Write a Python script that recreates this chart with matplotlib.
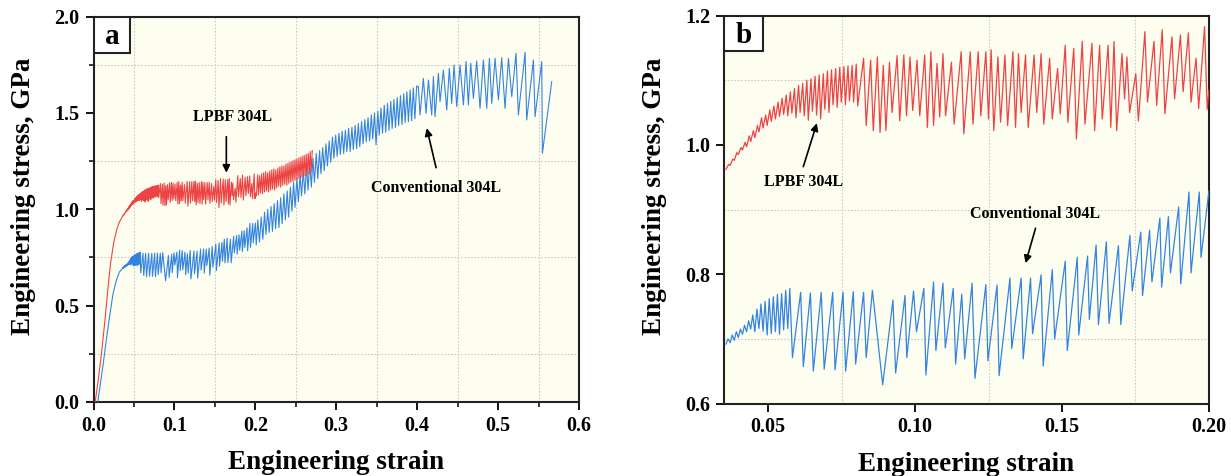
import matplotlib
matplotlib.use("Agg")
import matplotlib.pyplot as plt
from matplotlib.ticker import MultipleLocator, FixedLocator, FormatStrFormatter
from matplotlib.patches import Rectangle

# ---------------- data ----------------
# LPBF 304L : elastic part (0 - 0.035)
red_init_strain = [0.002, 0.006, 0.010, 0.014, 0.018, 0.021, 0.025, 0.029, 0.032]
red_init_stress = [0.000, 0.120, 0.260, 0.420, 0.600, 0.720, 0.830, 0.900, 0.935]

# LPBF 304L : serrated part shown in panel b (0.035 - 0.20)
red_b_strain = [
    0.0357, 0.0366, 0.0371, 0.0380, 0.0385, 0.0394, 0.0399, 0.0408, 0.0413, 0.0422,
    0.0427, 0.0436, 0.0441, 0.0450, 0.0455, 0.0464, 0.0469, 0.0478, 0.0483, 0.0492,
    0.0497, 0.0506, 0.0511, 0.0520, 0.0525, 0.0534, 0.0539, 0.0548, 0.0553, 0.0562,
    0.0567, 0.0576, 0.0581, 0.0590, 0.0595, 0.0604, 0.0609, 0.0618, 0.0623, 0.0632,
    0.0637, 0.0646, 0.0651, 0.0660, 0.0665, 0.0674, 0.0679, 0.0688, 0.0693, 0.0702,
    0.0707, 0.0716, 0.0721, 0.0730, 0.0735, 0.0744, 0.0749, 0.0758, 0.0763, 0.0772,
    0.0777, 0.0786, 0.0791, 0.0800, 0.0805,
    0.0825, 0.0834, 0.0849, 0.0858, 0.0872, 0.0881, 0.0892, 0.0901, 0.0913, 0.0922,
    0.0939, 0.0948, 0.0962, 0.0971, 0.0983, 0.0992, 0.1007, 0.1016, 0.1033, 0.1042,
    0.1054, 0.1063, 0.1075, 0.1084, 0.1095, 0.1104, 0.1124, 0.1133, 0.1157, 0.1166,
    0.1188, 0.1197, 0.1215, 0.1224, 0.1241, 0.1250, 0.1259, 0.1268, 0.1282, 0.1291,
    0.1306, 0.1315, 0.1333, 0.1342, 0.1352, 0.1361, 0.1376, 0.1385, 0.1405, 0.1414,
    0.1429, 0.1438, 0.1458, 0.1467, 0.1485, 0.1494, 0.1511, 0.1520, 0.1540, 0.1549,
    0.1569, 0.1578, 0.1602, 0.1611, 0.1628, 0.1637, 0.1657, 0.1666, 0.1677, 0.1686,
    0.1704, 0.1713, 0.1721, 0.1730, 0.1751, 0.1760, 0.1782, 0.1791, 0.1813, 0.1822,
    0.1841, 0.1850, 0.1874, 0.1883, 0.1903, 0.1912, 0.1930, 0.1939, 0.1956, 0.1965,
    0.1985, 0.1994, 0.2000]
red_b_stress = [
    0.962, 0.970, 0.968, 0.978, 0.976, 0.988, 0.985, 0.996, 0.992, 1.004,
    0.997, 1.014, 1.005, 1.022, 1.011, 1.030, 1.020, 1.042, 1.026, 1.046,
    1.030, 1.054, 1.036, 1.060, 1.040, 1.066, 1.044, 1.072, 1.047, 1.077,
    1.045, 1.082, 1.049, 1.087, 1.042, 1.092, 1.050, 1.095, 1.045, 1.100,
    1.038, 1.102, 1.052, 1.106, 1.046, 1.108, 1.040, 1.110, 1.055, 1.114,
    1.050, 1.116, 1.062, 1.118, 1.058, 1.120, 1.066, 1.121, 1.062, 1.122,
    1.068, 1.123, 1.066, 1.125, 1.060,
    1.134, 1.030, 1.131, 1.022, 1.136, 1.019, 1.123, 1.022, 1.128, 1.050,
    1.138, 1.037, 1.139, 1.045, 1.136, 1.053, 1.131, 1.045, 1.139, 1.027,
    1.144, 1.030, 1.126, 1.043, 1.141, 1.045, 1.128, 1.032, 1.144, 1.017,
    1.144, 1.032, 1.144, 1.045, 1.144, 1.040, 1.147, 1.022, 1.136, 1.035,
    1.139, 1.030, 1.144, 1.027, 1.141, 1.050, 1.139, 1.027, 1.139, 1.050,
    1.141, 1.032, 1.134, 1.040, 1.118, 1.048, 1.154, 1.035, 1.149, 1.009,
    1.160, 1.032, 1.157, 1.022, 1.154, 1.040, 1.154, 1.027, 1.160, 1.022,
    1.141, 1.071, 1.136, 1.050, 1.110, 1.037, 1.175, 1.066, 1.160, 1.061,
    1.178, 1.048, 1.167, 1.071, 1.170, 1.082, 1.173, 1.066, 1.134, 1.056,
    1.183, 1.055, 1.085]

# LPBF 304L : beyond 0.20 (panel a only)
red_ext_strain = [
    0.2013, 0.2028, 0.2038, 0.2053, 0.2063, 0.2078, 0.2088, 0.2103, 0.2113, 0.2128,
    0.2138, 0.2153, 0.2163, 0.2178, 0.2188, 0.2203, 0.2213, 0.2228, 0.2238, 0.2253,
    0.2263, 0.2278, 0.2288, 0.2303, 0.2313, 0.2328, 0.2338, 0.2353, 0.2363, 0.2378,
    0.2388, 0.2403, 0.2413, 0.2428, 0.2438, 0.2453, 0.2463, 0.2478, 0.2488, 0.2503,
    0.2513, 0.2528, 0.2538, 0.2553, 0.2563, 0.2578, 0.2588, 0.2603, 0.2613, 0.2628,
    0.2638, 0.2653, 0.2663, 0.2678, 0.2688, 0.2703]
red_ext_stress = [
    1.070, 1.180, 1.075, 1.175, 1.085, 1.185, 1.080, 1.190, 1.090, 1.195,
    1.095, 1.190, 1.090, 1.200, 1.100, 1.205, 1.105, 1.210, 1.100, 1.205,
    1.110, 1.215, 1.120, 1.220, 1.115, 1.225, 1.125, 1.225, 1.130, 1.235,
    1.125, 1.240, 1.135, 1.245, 1.140, 1.250, 1.145, 1.255, 1.150, 1.260,
    1.155, 1.265, 1.160, 1.270, 1.165, 1.275, 1.170, 1.280, 1.175, 1.285,
    1.180, 1.290, 1.185, 1.300, 1.190, 1.305]

# Conventional 304L : elastic part
blue_init_strain = [0.004, 0.008, 0.012, 0.016, 0.020, 0.024, 0.028, 0.032]
blue_init_stress = [-0.030, 0.080, 0.200, 0.330, 0.450, 0.560, 0.630, 0.675]

# Conventional 304L : serrated part shown in panel b (0.035 - 0.20)
blue_b_strain = [
    0.0357, 0.0364, 0.0371, 0.0378, 0.0385, 0.0392, 0.0399, 0.0406, 0.0413, 0.0420,
    0.0427, 0.0434, 0.0441, 0.0448, 0.0455, 0.0462, 0.0469, 0.0476, 0.0483, 0.0490,
    0.0497, 0.0504, 0.0511, 0.0518, 0.0525, 0.0532, 0.0539, 0.0546, 0.0553, 0.0560,
    0.0567, 0.0574,
    0.0583, 0.0611, 0.0620, 0.0644, 0.0654, 0.0681, 0.0691, 0.0720, 0.0728, 0.0755,
    0.0764, 0.0790, 0.0798, 0.0825, 0.0834, 0.0855, 0.0890, 0.0925, 0.0934, 0.0966,
    0.0972, 0.0995, 0.1005, 0.1030, 0.1037, 0.1063, 0.1071, 0.1095, 0.1103, 0.1130,
    0.1138, 0.1159, 0.1169, 0.1194, 0.1204, 0.1241, 0.1248, 0.1279, 0.1286, 0.1323,
    0.1329, 0.1361, 0.1368, 0.1393, 0.1400, 0.1429, 0.1436, 0.1467, 0.1475, 0.1511,
    0.1518, 0.1552, 0.1557, 0.1587, 0.1593, 0.1616, 0.1624, 0.1651, 0.1660, 0.1692,
    0.1700, 0.1731, 0.1739, 0.1768, 0.1774, 0.1798, 0.1806, 0.1833, 0.1839, 0.1862,
    0.1869, 0.1897, 0.1904, 0.1932, 0.1939, 0.1967, 0.1973, 0.2000]
blue_b_stress = [
    0.692, 0.700, 0.694, 0.706, 0.698, 0.711, 0.702, 0.715, 0.707, 0.721,
    0.711, 0.728, 0.715, 0.737, 0.711, 0.746, 0.716, 0.754, 0.712, 0.758,
    0.706, 0.762, 0.708, 0.765, 0.711, 0.769, 0.707, 0.770, 0.714, 0.775,
    0.716, 0.778,
    0.671, 0.772, 0.657, 0.771, 0.650, 0.772, 0.653, 0.772, 0.652, 0.772,
    0.650, 0.773, 0.661, 0.772, 0.671, 0.775, 0.629, 0.760, 0.647, 0.767,
    0.671, 0.774, 0.711, 0.778, 0.644, 0.788, 0.682, 0.786, 0.686, 0.778,
    0.661, 0.769, 0.669, 0.786, 0.639, 0.784, 0.666, 0.783, 0.643, 0.794,
    0.685, 0.794, 0.669, 0.794, 0.708, 0.799, 0.658, 0.807, 0.700, 0.820,
    0.682, 0.826, 0.706, 0.828, 0.730, 0.845, 0.722, 0.850, 0.724, 0.844,
    0.722, 0.860, 0.774, 0.865, 0.767, 0.868, 0.788, 0.887, 0.780, 0.889,
    0.802, 0.904, 0.785, 0.927, 0.802, 0.927, 0.826, 0.929]

# Conventional 304L : beyond 0.20 (panel a only)
blue_ext_strain = [
    0.2010, 0.2030, 0.2050, 0.2072, 0.2092, 0.2113, 0.2131, 0.2152, 0.2170, 0.2193,
    0.2211, 0.2232, 0.2250, 0.2273, 0.2291, 0.2312, 0.2330, 0.2352, 0.2371, 0.2393,
    0.2410, 0.2433, 0.2452, 0.2472, 0.2490, 0.2513, 0.2531, 0.2553, 0.2570, 0.2592,
    0.2611, 0.2633, 0.2650, 0.2672, 0.2691, 0.2712, 0.2730, 0.2752, 0.2771, 0.2793,
    0.2810, 0.2832, 0.2851, 0.2872, 0.2890, 0.2912, 0.2931, 0.2953, 0.2970, 0.2992,
    0.3011, 0.3033, 0.3050, 0.3072, 0.3091, 0.3112, 0.3130, 0.3152, 0.3171, 0.3193,
    0.3210, 0.3233, 0.3251, 0.3272, 0.3290, 0.3312, 0.3331, 0.3353, 0.3370, 0.3392,
    0.3411, 0.3433, 0.3450, 0.3472, 0.3491, 0.3513, 0.3530, 0.3552, 0.3571, 0.3593,
    0.3610, 0.3633, 0.3651, 0.3673, 0.3690, 0.3712, 0.3731, 0.3753, 0.3770, 0.3793,
    0.3811, 0.3833, 0.3850, 0.3872, 0.3891, 0.3913, 0.3930, 0.3952, 0.3971, 0.3993,
    0.4014, 0.4035, 0.4076, 0.4109, 0.4138, 0.4179, 0.4200, 0.4220, 0.4262, 0.4282,
    0.4323, 0.4365, 0.4397, 0.4426, 0.4455, 0.4488, 0.4529, 0.4571, 0.4603, 0.4632,
    0.4661, 0.4694, 0.4735, 0.4776, 0.4818, 0.4859, 0.4892, 0.4921, 0.4962, 0.5003,
    0.5044, 0.5085, 0.5127, 0.5168, 0.5221, 0.5250, 0.5333, 0.5353, 0.5436, 0.5456,
    0.5539, 0.5547, 0.5662]
blue_ext_stress = [
    0.815, 0.945, 0.830, 0.960, 0.845, 0.985, 0.870, 1.000, 0.880, 1.015,
    0.885, 1.030, 0.900, 1.045, 0.905, 1.060, 0.925, 1.080, 0.945, 1.095,
    0.960, 1.115, 0.990, 1.140, 1.010, 1.160, 1.040, 1.180, 1.070, 1.200,
    1.080, 1.225, 1.100, 1.245, 1.115, 1.265, 1.140, 1.290, 1.160, 1.305,
    1.185, 1.320, 1.200, 1.340, 1.225, 1.355, 1.245, 1.375, 1.265, 1.385,
    1.275, 1.395, 1.285, 1.405, 1.290, 1.410, 1.300, 1.420, 1.300, 1.425,
    1.310, 1.435, 1.315, 1.445, 1.325, 1.455, 1.340, 1.465, 1.350, 1.475,
    1.355, 1.490, 1.365, 1.500, 1.335, 1.510, 1.385, 1.525, 1.395, 1.540,
    1.400, 1.550, 1.410, 1.560, 1.420, 1.570, 1.425, 1.580, 1.435, 1.590,
    1.440, 1.600, 1.450, 1.610, 1.455, 1.620, 1.460, 1.630, 1.470, 1.640,
    1.637, 1.490, 1.680, 1.498, 1.671, 1.490, 1.689, 1.481, 1.706, 1.559,
    1.723, 1.516, 1.732, 1.550, 1.749, 1.533, 1.749, 1.542, 1.767, 1.542,
    1.758, 1.576, 1.770, 1.524, 1.775, 1.524, 1.784, 1.550, 1.784, 1.568,
    1.787, 1.524, 1.784, 1.585, 1.810, 1.490, 1.815, 1.464, 1.775, 1.481,
    1.767, 1.291, 1.663]

# text
label_a = "a"
label_b = "b"
name_lpbf = "LPBF 304L"
name_conv = "Conventional 304L"
xlab = "Engineering strain"
ylab = "Engineering stress, GPa"

# ---------------- styling ----------------
RED = "#ec4444"
BLUE = "#3384e0"
BG = "#fefef0"
SERIF = ["Liberation Serif", "DejaVu Serif"]

plt.rcParams["font.family"] = SERIF
plt.rcParams["font.weight"] = "bold"

fig = plt.figure(figsize=(12.31, 4.76), dpi=100)
axa = fig.add_axes([0.0760, 0.1555, 0.3944, 0.8095])
axb = fig.add_axes([0.5881, 0.1523, 0.3940, 0.8151])

red_a_x = red_init_strain + red_b_strain + red_ext_strain
red_a_y = red_init_stress + red_b_stress + red_ext_stress
blue_a_x = blue_init_strain + blue_b_strain + blue_ext_strain
blue_a_y = blue_init_stress + blue_b_stress + blue_ext_stress

axa.plot(blue_a_x, blue_a_y, color=BLUE, lw=0.8, zorder=3)
axa.plot(red_a_x, red_a_y, color=RED, lw=0.8, zorder=3)
axb.plot(red_b_strain, red_b_stress, color=RED, lw=0.9, zorder=3)
axb.plot(blue_b_strain, blue_b_stress, color=BLUE, lw=0.9, zorder=3)


def style(ax, minor_ticks=True):
    ax.set_facecolor(BG)
    for sp in ax.spines.values():
        sp.set_linewidth(1.5)
        sp.set_color("#222222")
    ax.tick_params(which="major", direction="out", length=6, width=1.3,
                   labelsize=14.5, top=False, right=False, pad=4)
    ax.tick_params(which="minor", direction="out", length=3.5 if minor_ticks else 0,
                   width=1.1, top=False, right=False)
    for lab in ax.get_xticklabels() + ax.get_yticklabels():
        lab.set_fontweight("bold")
    ax.grid(which="minor", color="#c9c9c9", linestyle=(0, (1.5, 1.5)), lw=0.8, zorder=0)
    ax.grid(which="major", visible=False)
    ax.set_xlabel(xlab, fontsize=19.5, fontweight="bold")
    ax.set_ylabel(ylab, fontsize=19.5, fontweight="bold")


# panel a
axa.set_xlim(0, 0.6)
axa.set_ylim(0, 2.0)
axa.xaxis.set_major_locator(MultipleLocator(0.1))
axa.xaxis.set_minor_locator(MultipleLocator(0.05))
axa.yaxis.set_major_locator(MultipleLocator(0.5))
axa.yaxis.set_minor_locator(MultipleLocator(0.25))
axa.xaxis.set_major_formatter(FormatStrFormatter("%.1f"))
axa.yaxis.set_major_formatter(FormatStrFormatter("%.1f"))
style(axa, True)

# panel b
axb.set_xlim(0.035, 0.20)
axb.set_ylim(0.6, 1.2)
axb.xaxis.set_major_locator(FixedLocator([0.05, 0.10, 0.15, 0.20]))
axb.xaxis.set_minor_locator(FixedLocator([0.075, 0.125, 0.175]))
axb.yaxis.set_major_locator(MultipleLocator(0.2))
axb.yaxis.set_minor_locator(MultipleLocator(0.1))
axb.xaxis.set_major_formatter(FormatStrFormatter("%.2f"))
axb.yaxis.set_major_formatter(FormatStrFormatter("%.1f"))
style(axb, False)

for ax in (axa, axb):
    ax.xaxis.set_label_coords(0.5, -0.125)
    ax.yaxis.set_label_coords(-0.118, 0.535)

# panel letters in boxes
for ax, lab, w, h in ((axa, label_a, 0.0756, 0.0934), (axb, label_b, 0.080, 0.092)):
    ax.add_patch(Rectangle((0, 1 - h), w, h, transform=ax.transAxes,
                           facecolor="white", edgecolor="#222222", lw=1.5, zorder=5))
    ax.text(w / 2, 1 - h / 2 - 0.005, lab, transform=ax.transAxes, ha="center",
            va="center", fontsize=21, fontweight="bold", zorder=6)

ann = dict(arrowstyle="-|>", color="black", lw=1.2, mutation_scale=11,
           shrinkA=0, shrinkB=0)
# panel a annotations
axa.text(0.1712, 1.481, name_lpbf, ha="center", va="center", fontsize=11.5, fontweight="bold")
axa.annotate("", xy=(0.1641, 1.190), xytext=(0.1641, 1.377), arrowprops=ann)
axa.text(0.4233, 1.109, name_conv, ha="center", va="center", fontsize=11.5, fontweight="bold")
axa.annotate("", xy=(0.4118, 1.421), xytext=(0.4233, 1.216), arrowprops=ann)
# panel b annotations
axb.text(0.0620, 0.942, name_lpbf, ha="center", va="center", fontsize=11.5, fontweight="bold")
axb.annotate("", xy=(0.0666, 1.0334), xytext=(0.0620, 0.9663), arrowprops=ann)
axb.text(0.141, 0.8927, name_conv, ha="center", va="center", fontsize=11.5, fontweight="bold")
axb.annotate("", xy=(0.1376, 0.817), xytext=(0.141, 0.871), arrowprops=ann)

fig.savefig("out.png", dpi=100, facecolor="white")
